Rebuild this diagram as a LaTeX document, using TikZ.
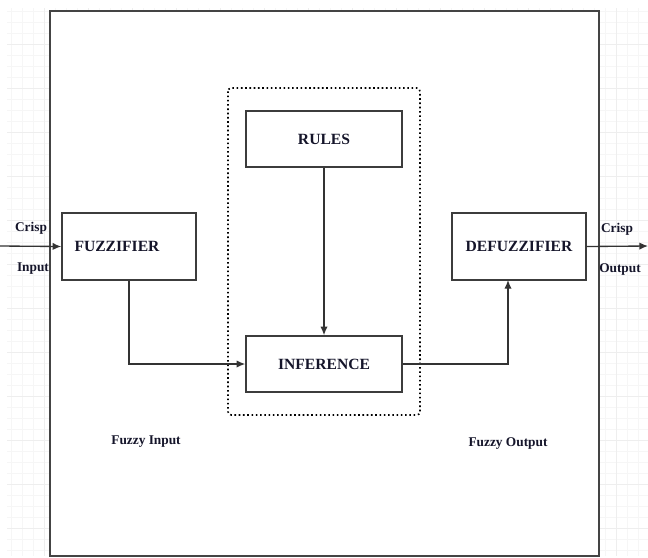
\documentclass[tikz,border=0pt]{standalone}
\usepackage{fontspec}
\setmainfont{Liberation Serif}
\usepackage{xcolor}
\usepackage{tikz}
\usetikzlibrary{arrows.meta}
\definecolor{border}{HTML}{3C3C3C}
\definecolor{frame}{HTML}{444444}
\definecolor{wire}{HTML}{333333}
\definecolor{grid}{HTML}{F6F6F6}
\definecolor{gridmajor}{HTML}{EEEEEE}
\definecolor{ink}{HTML}{15152A}

\begin{document}
\begin{tikzpicture}[x=0.75pt,y=-0.75pt, >={Latex[length=6.5pt,width=5.5pt]},
    block/.style={draw=border, line width=1.1pt, minimum width=100.5pt, minimum height=50pt, inner sep=0pt, font=\fontsize{11.7}{14}\selectfont\bfseries, text=ink},
    lab/.style={font=\fontsize{10}{12}\selectfont\bfseries, text=ink, inner sep=0pt},
    wirel/.style={draw=wire, line width=1pt}]
  \useasboundingbox (0,0) rectangle (648,557);
  % faint page grid behind the frame
  \draw[color=grid, line width=0.5pt] (7,8) grid[step=8.25pt] (648,556);
  \draw[color=gridmajor, line width=0.5pt] (7,8) grid[step=33pt] (648,556);
  \draw[color=frame, line width=1.3pt, fill=white] (50,11) rectangle (599,556);
  \draw[dotted, line width=1.2pt, rounded corners=2.5pt] (228,88) rectangle (420,415);
  \node[block] (fuz) at (129,246.5) {FUZZIFIER\kern18pt};
  \node[block] (def) at (519,246.5) {DEFUZZIFIER};
  \node[block, minimum width=117pt, minimum height=42pt] (rul) at (324,139) {RULES};
  \node[block, minimum width=117pt, minimum height=42pt] (inf) at (324,364) {INFERENCE};
  \coordinate (cin) at (0,246);
  \coordinate (cout) at (648,246);
  \coordinate (defin) at (508,280);
  \draw[wirel, ->] (cin) -- (fuz.west);
  \draw[wirel, ->] (def.east) -- (cout);
  \draw[wirel, ->] (rul.south) -- (inf.north);
  \draw[wirel, ->] (fuz.south) |- (inf.west);
  \draw[wirel, ->] (inf.east) -| (defin);
  \node[lab] (ci) at (31,228) {Crisp};
  \node[lab] (ii) at (33,269) {Input};
  \node[lab] (co) at (617,229) {Crisp};
  \node[lab] (oo) at (620,269) {Output};
  \node[lab] (fi) at (146,442) {Fuzzy Input};
  \node[lab] (fo) at (508,444) {Fuzzy Output};
\end{tikzpicture}
\end{document}
